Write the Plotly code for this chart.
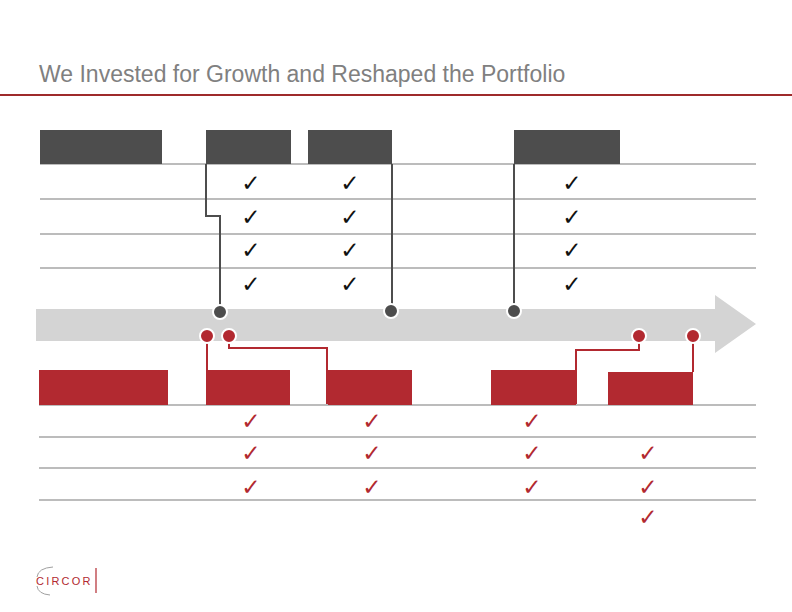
import plotly.graph_objects as go

W, H = 792, 612

# ---- data ----
title_text = "We Invested for Growth and Reshaped the Portfolio"

# top (investment) header boxes: x0, x1
top_boxes = [(40, 162), (206, 291), (308, 392), (514, 620)]
top_rows_y = [164, 199, 234, 268]          # separator lines
top_check_cols = [251, 350, 572]
top_check_rows = [185, 219, 252, 286]
top_checks = [[1, 1, 1, 1], [1, 1, 1, 1], [1, 1, 1, 1]]  # per column, per row

# bottom (reshape) header boxes: x0, x1, y0
bot_boxes = [(39, 168, 370), (206, 290, 370), (328, 412, 370), (491, 576, 370), (608, 693, 372)]
bot_rows_y = [405, 437, 468, 500]
bot_check_cols = [251, 372, 532, 648]
bot_check_rows = [423, 455, 489, 519]
bot_checks = [[1, 1, 1, 0], [1, 1, 1, 0], [1, 1, 1, 0], [0, 1, 1, 1]]

# timeline dots
dark_dots_x = [220, 391, 514]
dark_dots_y = [312, 311, 311]
red_dots_x = [207, 229, 639, 693]
red_dots_y = [336, 336, 336, 336]

# connectors (polylines)
dark_connectors = [
    ([206, 206, 220, 220], [164, 216, 216, 312]),
    ([392, 392], [164, 311]),
    ([514, 514], [164, 311]),
]
red_connectors = [
    ([207, 207], [336, 372]),
    ([229, 229, 327, 327], [336, 348, 348, 404]),
    ([639, 639, 576, 576], [336, 350, 350, 404]),
    ([693, 693], [336, 372]),
]

DARK = "#4d4d4d"
RED = "#b22930"
LINE = "#a6a6a6"
BAND = "#d4d4d4"

fig = go.Figure()
shapes = []

# title rule
shapes.append(dict(type="line", x0=0, x1=W, y0=95, y1=95, layer="below",
                   line=dict(color="#9e2a2b", width=2)))

# arrow band + head
shapes.append(dict(type="path", layer="below",
                   path="M 36 309 L 715 309 L 715 295 L 756 324 L 715 353 L 715 341 L 36 341 Z",
                   fillcolor=BAND, line=dict(width=0)))

# top rows
for y in top_rows_y:
    shapes.append(dict(type="line", x0=40, x1=756, y0=y, y1=y, layer="below",
                       line=dict(color=LINE, width=1.5)))
for x0, x1 in top_boxes:
    shapes.append(dict(type="rect", x0=x0, x1=x1, y0=130, y1=164, layer="below",
                       fillcolor=DARK, line=dict(width=0)))

# bottom rows
for y in bot_rows_y:
    shapes.append(dict(type="line", x0=39, x1=756, y0=y, y1=y, layer="below",
                       line=dict(color=LINE, width=1.5)))
for x0, x1, y0 in bot_boxes:
    shapes.append(dict(type="rect", x0=x0, x1=x1, y0=y0, y1=405, layer="below",
                       fillcolor=RED, line=dict(width=0)))

# logo divider + arc
shapes.append(dict(type="line", x0=96, x1=96, y0=568, y1=593, layer="below",
                   line=dict(color=RED, width=1.2)))
shapes.append(dict(type="path", layer="below", path="M 53 567 Q 38 568 37 577",
                   line=dict(color="#a0a0a0", width=1)))
shapes.append(dict(type="path", layer="below", path="M 37 586 Q 38 594 50 595",
                   line=dict(color="#a0a0a0", width=1)))

# connectors
for xs, ys in dark_connectors:
    fig.add_trace(go.Scatter(x=xs, y=ys, mode="lines", line=dict(color=DARK, width=2), hoverinfo="skip"))
for xs, ys in red_connectors:
    fig.add_trace(go.Scatter(x=xs, y=ys, mode="lines", line=dict(color=RED, width=2), hoverinfo="skip"))

# dots
fig.add_trace(go.Scatter(x=dark_dots_x, y=dark_dots_y, mode="markers",
                         marker=dict(size=14, color=DARK, line=dict(color="white", width=2)), hoverinfo="skip"))
fig.add_trace(go.Scatter(x=red_dots_x, y=red_dots_y, mode="markers",
                         marker=dict(size=14, color=RED, line=dict(color="white", width=2)), hoverinfo="skip"))

# checks
tx, ty = [], []
for ci, x in enumerate(top_check_cols):
    for ri, y in enumerate(top_check_rows):
        if top_checks[ci][ri]:
            tx.append(x); ty.append(y)
fig.add_trace(go.Scatter(x=tx, y=ty, mode="text", text=["✓"] * len(tx),
                         textfont=dict(size=23, color="#111111", family="DejaVu Sans"), hoverinfo="skip"))
bx, by = [], []
for ci, x in enumerate(bot_check_cols):
    for ri, y in enumerate(bot_check_rows):
        if bot_checks[ci][ri]:
            bx.append(x); by.append(y)
fig.add_trace(go.Scatter(x=bx, y=by, mode="text", text=["✓"] * len(bx),
                         textfont=dict(size=23, color=RED, family="DejaVu Sans"), hoverinfo="skip"))

annotations = [
    dict(x=37, y=74, xref="x", yref="y", text=title_text, showarrow=False, xanchor="left", yanchor="middle",
         font=dict(family="Liberation Sans", size=23, color="#808080")),
    dict(x=34, y=581, xref="x", yref="y", text="C\u2009I\u2009R\u2009C\u2009O\u2009R", showarrow=False,
         xanchor="left", yanchor="middle",
         font=dict(family="Liberation Sans", size=11, color=RED)),
]

fig.update_layout(
    width=W, height=H, margin=dict(l=0, r=0, t=0, b=0),
    paper_bgcolor="white", plot_bgcolor="white", showlegend=False,
    xaxis=dict(range=[0, W], visible=False, fixedrange=True),
    yaxis=dict(range=[H, 0], visible=False, fixedrange=True),
    shapes=shapes, annotations=annotations,
)
fig.write_html("out.html", config={"displayModeBar": False},
               post_script="document.body.style.margin='0';document.body.style.overflow='hidden';")
